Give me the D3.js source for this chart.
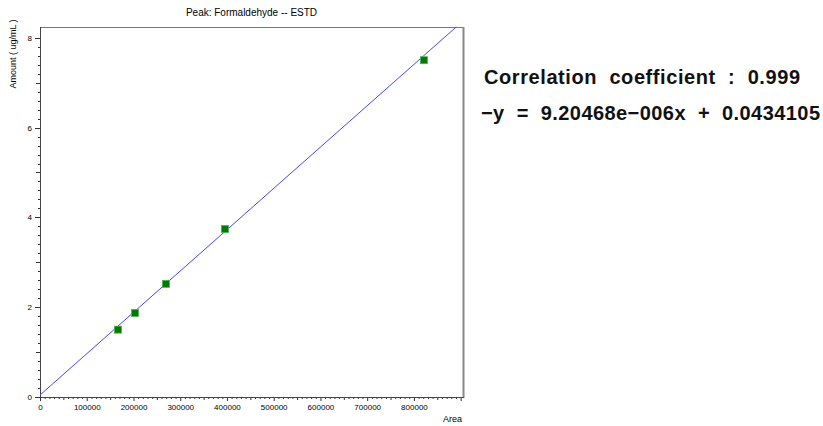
<!DOCTYPE html>
<html>
<head>
<meta charset="utf-8">
<script src="https://cdn.jsdelivr.net/npm/d3@7"></script>
<style>
  html, body { margin: 0; padding: 0; background: #fff; overflow: hidden; }
  svg { display: block; }
  text { font-family: "Liberation Sans", Arial, sans-serif; }
  .info { white-space: pre; }
</style>
</head>
<body>
<div id="chart"></div>
<script>
// calibration data
const areas = [166800, 203200, 269500, 395700, 821400];
const amounts = [1.5, 1.87, 2.52, 3.74, 7.5];
const slope = 9.20468e-6;
const intercept = 0.0434105;
const xLabels = [0, 100000, 200000, 300000, 400000, 500000, 600000, 700000, 800000];
const yLabels = [0, 2, 4, 6, 8];
const infoLines = ["Correlation  coefficient  :  0.999", "−y  =  9.20468e−006x  +  0.0434105"];

const width = 823;
const height = 426;
const margin = { top: 27, right: 360, bottom: 29, left: 40 };
const innerWidth = width - margin.left - margin.right;
const innerHeight = height - margin.top - margin.bottom;

const xMax = 905000;
const yMax = 8.24;

const svg = d3.select("#chart")
    .append("svg")
    .attr("width", width)
    .attr("height", height);

const g = svg.append("g")
    .attr("transform", "translate(" + margin.left + "," + margin.top + ")");

const xScale = d3.scaleLinear()
    .domain([0, xMax])
    .range([0, innerWidth]);

const yScale = d3.scaleLinear()
    .domain([0, yMax])
    .range([innerHeight, 0]);

// minor ticks
const xMinor = d3.range(0, xMax, 10000);
g.append("g")
    .selectAll("line")
    .data(xMinor)
    .join("line")
    .attr("x1", d => xScale(d) + 0.5)
    .attr("x2", d => xScale(d) + 0.5)
    .attr("y1", innerHeight)
    .attr("y2", d => innerHeight + (d % 100000 === 0 ? 4 : d % 50000 === 0 ? 3 : 2))
    .attr("stroke", "#333")
    .attr("stroke-width", 1);

const yMinor = d3.range(0, 41).map(i => i * 0.2);
g.append("g")
    .selectAll("line")
    .data(yMinor)
    .join("line")
    .attr("x1", 0)
    .attr("x2", (d, i) => i % 10 === 0 ? -5 : i % 5 === 0 ? -4 : -2)
    .attr("y1", d => Math.round(yScale(d)) + 0.5)
    .attr("y2", d => Math.round(yScale(d)) + 0.5)
    .attr("stroke", "#333")
    .attr("stroke-width", 1);

// axes labels
const xAxis = d3.axisBottom(xScale).tickValues(xLabels).tickSize(0).tickPadding(7)
    .tickFormat(d3.format("d"));
g.append("g")
    .attr("transform", "translate(0," + innerHeight + ")")
    .call(xAxis)
    .call(s => s.select(".domain").remove())
    .call(s => s.selectAll("text").attr("font-size", 8).attr("fill", "#000")
        .attr("font-family", "Liberation Sans, Arial, sans-serif"));

const yAxis = d3.axisLeft(yScale).tickValues(yLabels).tickSize(0).tickPadding(8);
g.append("g")
    .call(yAxis)
    .call(s => s.select(".domain").remove())
    .call(s => s.selectAll("text").attr("font-size", 8).attr("fill", "#000")
        .attr("font-family", "Liberation Sans, Arial, sans-serif"));

// frame
g.append("rect")
    .attr("x", 0.5)
    .attr("y", 0.5)
    .attr("width", innerWidth)
    .attr("height", innerHeight)
    .attr("fill", "none")
    .attr("stroke", "#777");
g.append("line")
    .attr("x1", innerWidth + 0.5).attr("x2", innerWidth + 0.5)
    .attr("y1", 0).attr("y2", innerHeight + 1)
    .attr("stroke", "#888").attr("stroke-width", 2);
g.append("line")
    .attr("x1", 0.5).attr("x2", 0.5)
    .attr("y1", 0).attr("y2", innerHeight)
    .attr("stroke", "#444");
g.append("line")
    .attr("x1", 0).attr("x2", innerWidth + 1)
    .attr("y1", innerHeight + 0.5).attr("y2", innerHeight + 0.5)
    .attr("stroke", "#444");

// regression line, from x = 0 to where it meets the top of the plot
const xEnd = Math.min(xMax, (yMax - intercept) / slope);
const fit = d3.line()
    .x(d => xScale(d))
    .y(d => yScale(slope * d + intercept));

g.append("path")
    .datum([0, xEnd])
    .attr("d", fit)
    .attr("fill", "none")
    .attr("stroke", "#4646ff")
    .attr("stroke-width", 1);

// points
const pts = areas.map((a, i) => ({ x: a, y: amounts[i] }));
g.selectAll(".pt")
    .data(pts)
    .join("rect")
    .attr("class", "pt")
    .attr("x", d => xScale(d.x) - 3.5)
    .attr("y", d => yScale(d.y) - 3.5)
    .attr("width", 7)
    .attr("height", 7)
    .attr("fill", "#007a00")
    .attr("stroke", "#52b152")
    .attr("stroke-width", 0.8);

// titles
svg.append("text")
    .attr("x", margin.left + innerWidth / 2)
    .attr("y", 16)
    .attr("text-anchor", "middle")
    .attr("font-size", 10)
    .text("Peak: Formaldehyde -- ESTD");

svg.append("text")
    .attr("transform", "translate(16,54) rotate(-90)")
    .attr("text-anchor", "middle")
    .attr("font-size", 9)
    .text("Amount ( ug/mL )");

svg.append("text")
    .attr("x", 462)
    .attr("y", 422)
    .attr("text-anchor", "end")
    .attr("font-size", 9)
    .text("Area");

// info text
svg.selectAll(".info")
    .data(infoLines)
    .join("text")
    .attr("class", "info")
    .attr("x", (d, i) => i === 0 ? 484 : 481)
    .attr("y", (d, i) => i === 0 ? 84 : 120)
    .attr("font-size", 20)
    .attr("font-weight", "bold")
    .attr("fill", "#111")
    .attr("textLength", (d, i) => i === 0 ? 316 : 339)
    .attr("lengthAdjust", "spacing")
    .text(d => d);
</script>
</body>
</html>
